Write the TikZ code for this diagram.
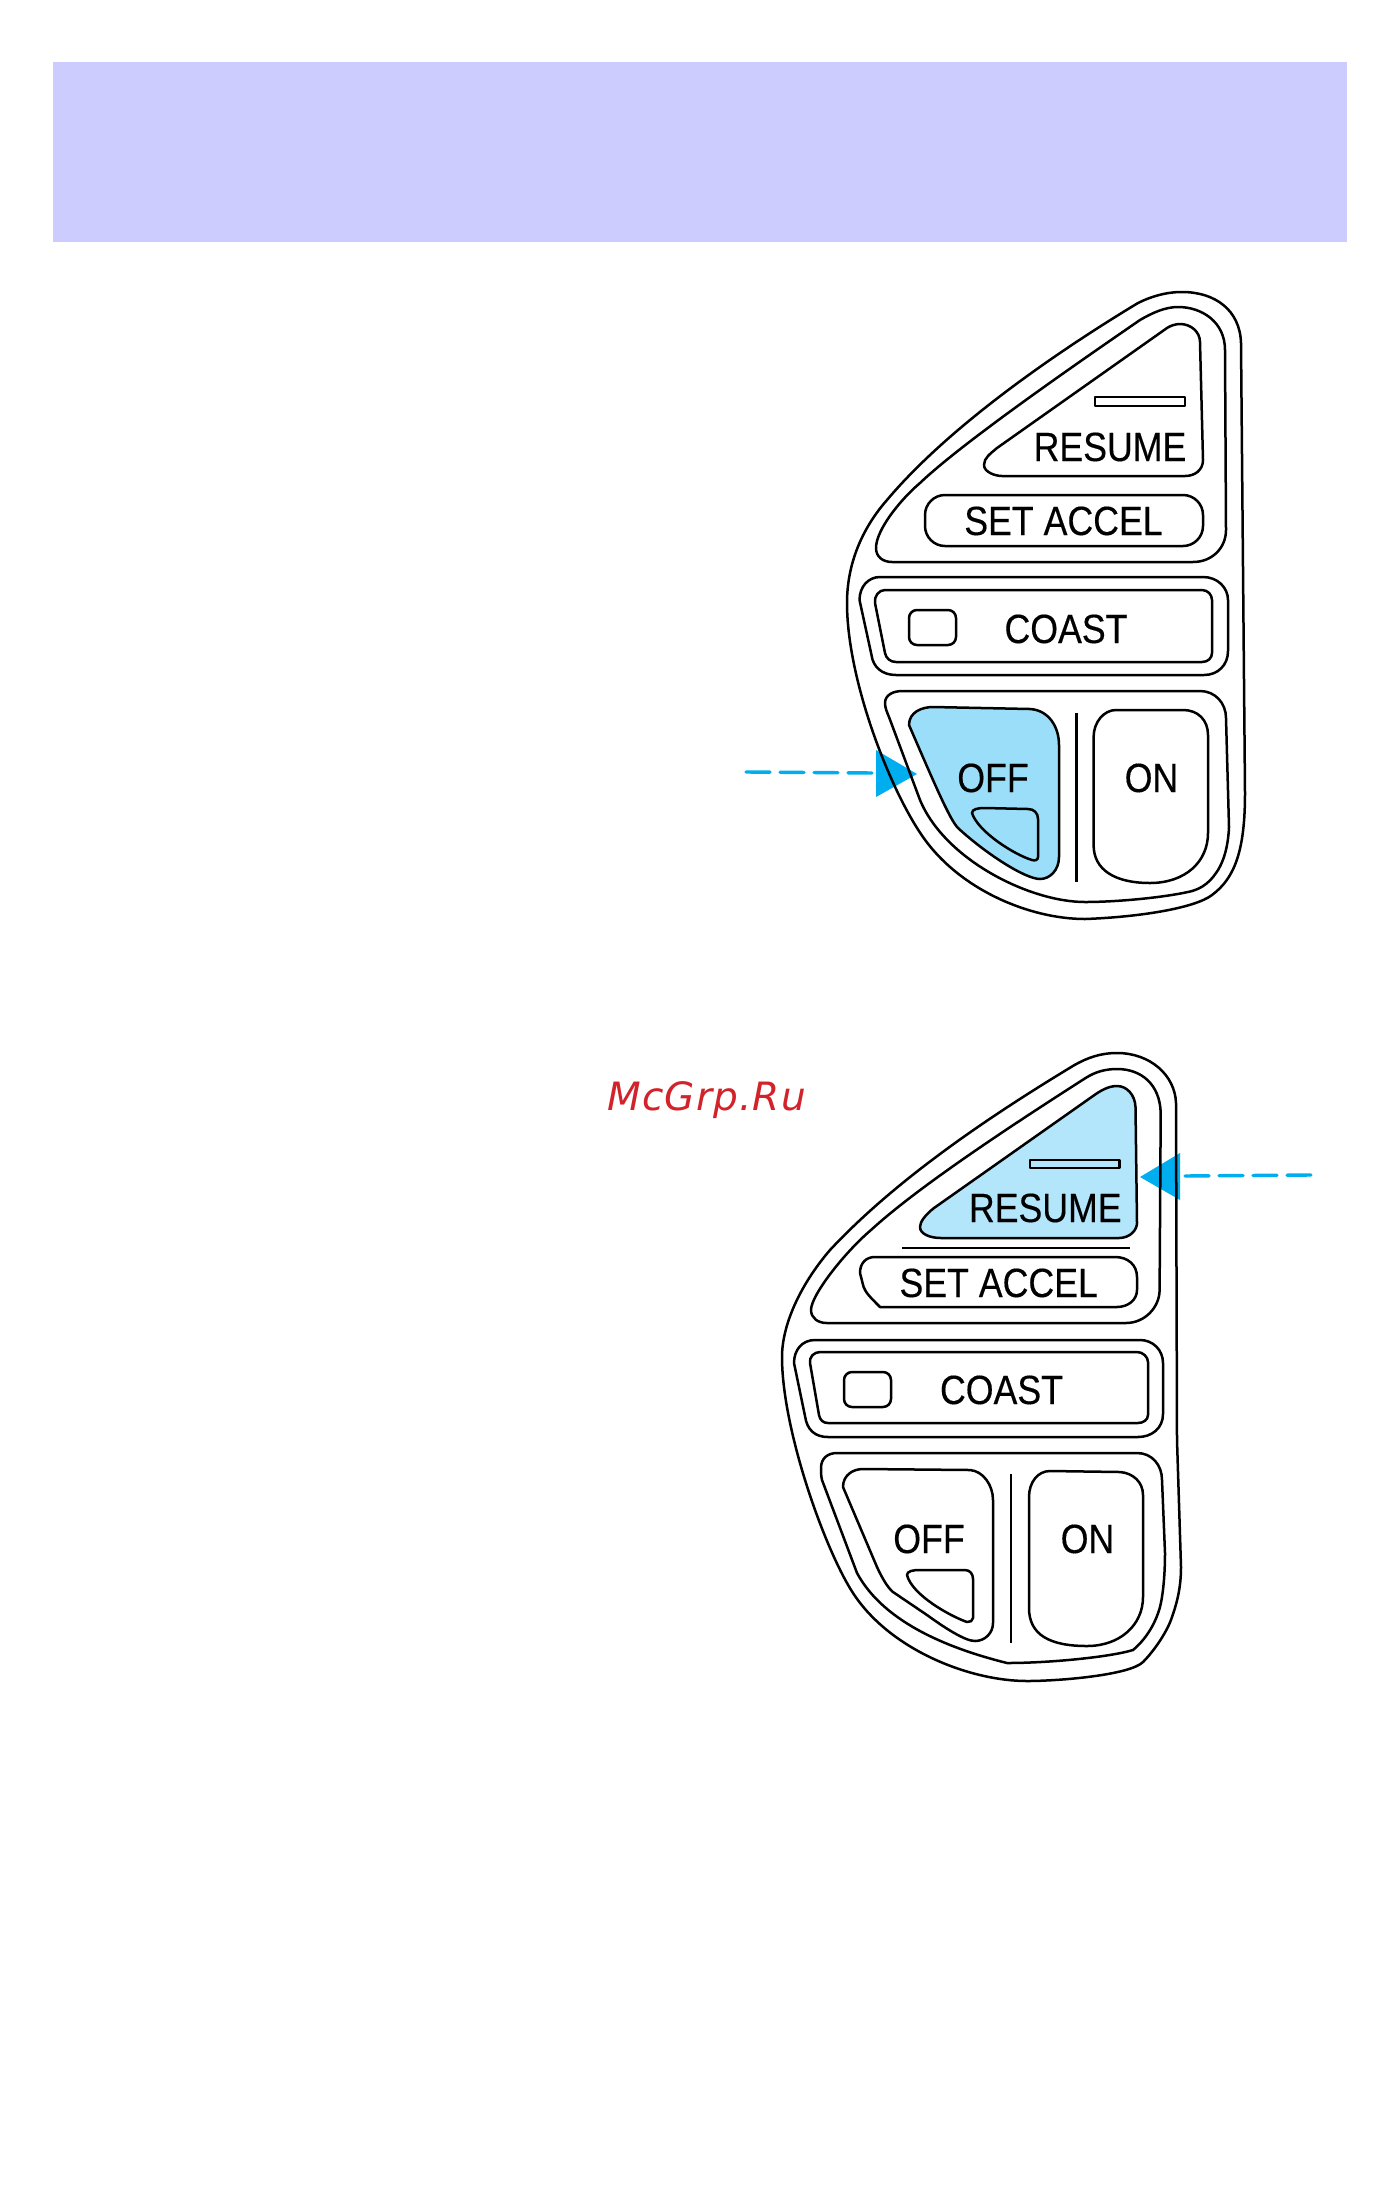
\documentclass[tikz,border=0pt]{standalone}
\usepackage{fontspec}
\setmainfont{Liberation Sans}
\newfontfamily\lblfont[FakeBold=0.35]{Liberation Sans}
\newfontfamily\wmfont[LetterSpace=3]{DejaVu Sans}
\definecolor{banner}{HTML}{CCCCFF}
\definecolor{cyanarrow}{HTML}{00AEEF}
\definecolor{offfill}{HTML}{9BDEF9}
\definecolor{resfill}{HTML}{B3E5FB}
\definecolor{wm}{HTML}{D2232A}
\tikzset{
 ln/.style={draw=black,line width=1.25pt,line join=round},
 lbl/.style={inner sep=0pt,font=\lblfont\fontsize{20.4pt}{24pt}\selectfont,xscale=.875,transform shape,anchor=base},
 dashline/.style={draw=cyanarrow,line width=1.7pt,line cap=round,dash pattern=on 12pt off 5pt},
 head/.style={fill=cyanarrow,draw=none},
}
\begin{document}
\begin{tikzpicture}[x=0.5pt,y=-0.5pt]
\useasboundingbox (0,0) rectangle (1398,2190);
\fill[white] (0,0) rectangle (1398,2190);
\fill[banner] (53,62) rectangle (1347,242);
% fills and arrows first, black lines over them
\coordinate (a1s) at (746,772);
\coordinate (a1e) at (875,773);
\draw[dashline] (a1s) -- (a1e);
\fill[head] (876,750) -- (917,774) -- (876,797) -- cycle;
\coordinate (a2s) at (1311,1175);
\coordinate (a2e) at (1182,1176);
\draw[dashline] (a2s) -- (a2e);
\fill[head] (1180,1153) -- (1140,1177) -- (1180,1200) -- cycle;
\def\offpath{(909,725) .. controls (909,712) and (922,707) .. (933,707) -- (1030,709) .. controls (1048,710) and (1059,726) .. (1059,745) -- (1059,857) .. controls (1059,870) and (1050,879) .. (1040,879) .. controls (1025,879) and (985,853) .. (958,828) .. controls (950,820) and (935,785) .. (909,725) -- cycle}
\fill[offfill] \offpath;
\draw[ln] \offpath;
\def\respath{(1117,1086) .. controls (1108,1086) and (1100,1091) .. (1093,1096) -- (934,1208) .. controls (925,1215) and (920,1222) .. (920,1227) .. controls (920,1234) and (930,1238) .. (941,1238) -- (1119,1238) .. controls (1130,1238) and (1137,1230) .. (1137,1223) -- (1135.5,1107) .. controls (1135,1095) and (1127,1086) .. (1117,1086) -- cycle}
\fill[resfill] \respath;
\draw[ln] \respath;
%% ---------- upper panel
\draw[ln] (1182,292) .. controls (1165,292) and (1150,297) .. (1138,303) .. controls (1060,350) and (950,425) .. (887,500) .. controls (865,525) and (847,560) .. (847,603) .. controls (847,680) and (890,790) .. (923,837) .. controls (960,890) and (1030,919) .. (1085,919) .. controls (1140,917) and (1195,908) .. (1212,895) .. controls (1235,878) and (1245,850) .. (1245,793) -- (1241,343) .. controls (1240,310) and (1215,292) .. (1182,292) -- cycle;
\draw[ln] (1178,307) .. controls (1165,307) and (1152,313) .. (1140,320) .. controls (1060,375) and (960,445) .. (920,483) .. controls (900,500) and (876,530) .. (876,548) .. controls (876,557) and (883,562) .. (892,562) -- (1193,562) .. controls (1212,562) and (1226,548) .. (1226,530) -- (1225,350) .. controls (1225,322) and (1202,307) .. (1178,307) -- cycle;
\draw[ln] (1180,324) .. controls (1175,324) and (1170,326) .. (1167,328) -- (997,448) .. controls (990,454) and (984,458) .. (984,465) .. controls (984,472) and (995,476) .. (1002,476) -- (1185,476) .. controls (1195,476) and (1203,470) .. (1203,460) -- (1200,342) .. controls (1200,332) and (1191,324) .. (1180,324) -- cycle;
\draw[ln] (1095,397) rectangle (1185,406);
\node[lbl] (res1) at (1110,461) {RESUME};
\draw[ln,rounded corners=10pt] (925,495) rectangle (1203,546);
\node[lbl] (set1) at (1063.5,535) {SET ACCEL};
% coast
\draw[ln] (859.5,600) .. controls (859.5,587) and (868,577) .. (880,577) -- (1203,577) .. controls (1218,577) and (1228,588) .. (1228,600) -- (1228,651) .. controls (1228,665) and (1218,675) .. (1204,675) -- (896,675) .. controls (882,675) and (873,667) .. (871.5,655) -- cycle;
\draw[ln] (875,603) .. controls (874,596) and (879,590) .. (885,590) -- (1202,590) .. controls (1208,590) and (1212,595) .. (1212,600) -- (1212,653) .. controls (1212,658) and (1208,662) .. (1202,662) -- (896,662) .. controls (890,662) and (886,658) .. (885,653) -- cycle;
\draw[ln,rounded corners=4pt] (909,610) rectangle (956,645);
\node[lbl] (coast1) at (1066,643) {COAST};
% off/on
\draw[ln] (885,703) .. controls (885,695) and (893,691) .. (902.5,691) -- (1200,691) .. controls (1215,691) and (1226,703) .. (1226,718) -- (1229,827) .. controls (1228,850) and (1222,865) .. (1216,873) .. controls (1208,885) and (1198,890) .. (1188,892) .. controls (1160,898) and (1115,902) .. (1085,902) .. controls (1030,902) and (945,860) .. (920,800) -- (889,717) .. controls (887,712) and (885,708) .. (885,703) -- cycle;
\draw[ln] (972,813) .. controls (972,809) and (978,808) .. (985,808) -- (1028,809) .. controls (1034,809) and (1038,813) .. (1038,819) -- (1038,857) .. controls (1038,860) and (1035,861) .. (1032,860) .. controls (1015,855) and (978,832) .. (972,813) -- cycle;
\node[lbl] (off1) at (993,792) {OFF};
\coordinate (d1a) at (1076.4,713);
\coordinate (d1b) at (1076.4,882);
\draw[ln] (d1a) -- (d1b);
\draw[ln] (1093.6,737) .. controls (1093.6,722) and (1104,710) .. (1116,710) -- (1183,710) .. controls (1198,710) and (1208,720) .. (1208,735) -- (1208,833) .. controls (1208,862) and (1185,883) .. (1150,883) .. controls (1115,883) and (1093.6,870) .. (1093.6,845) -- cycle;
\node[lbl] (on1) at (1151.5,792) {ON};
%% ---------- lower panel
\draw[ln] (1117,1053) .. controls (1100,1053) and (1087,1058) .. (1074.5,1065) .. controls (1000,1110) and (900,1175) .. (830,1250) .. controls (800,1285) and (782,1325) .. (782,1357) .. controls (782,1430) and (825,1550) .. (853,1593) .. controls (890,1650) and (970,1681) .. (1027,1681) .. controls (1060,1681) and (1130,1675) .. (1143,1662) .. controls (1155,1650) and (1168,1630) .. (1172,1617) .. controls (1178,1600) and (1181,1585) .. (1181,1567) -- (1177,1440) -- (1176,1103) .. controls (1175,1075) and (1150,1053) .. (1117,1053) -- cycle;
\draw[ln] (1117,1069) .. controls (1105,1069) and (1095,1072) .. (1085.6,1078) .. controls (1020,1120) and (920,1185) .. (871,1230) .. controls (845,1252) and (811,1295) .. (811,1310) .. controls (811,1318) and (818,1323) .. (826.6,1323) -- (1126,1323) .. controls (1145,1323) and (1159.6,1307) .. (1159.6,1290) -- (1160.7,1113) .. controls (1160,1085) and (1142,1069) .. (1117,1069) -- cycle;
\draw[ln] (1030,1160) rectangle (1119.6,1168);
\node[lbl] (res2) at (1045.3,1222) {RESUME};
\coordinate (l2a) at (902.4,1248);
\coordinate (l2b) at (1130,1248);
\draw[ln] (l2a) -- (l2b);
\draw[ln] (860,1273) .. controls (860,1263) and (866,1257) .. (875,1257) -- (1115,1257) .. controls (1128,1257) and (1137,1265) .. (1137,1277) -- (1137,1290) .. controls (1137,1300) and (1128,1307) .. (1117,1307) -- (880,1307) .. controls (870,1297) and (866,1293) .. (863.6,1287) -- cycle;
\node[lbl] (set2) at (998.7,1297) {SET ACCEL};
% coast
\draw[ln] (794,1363) .. controls (794,1350) and (802,1340) .. (815,1340) -- (1140,1340) .. controls (1153,1340) and (1163,1350) .. (1163,1363) -- (1163,1414) .. controls (1163,1428) and (1152,1437) .. (1138,1437) -- (828,1437) .. controls (815,1437) and (807,1430) .. (805,1416) -- cycle;
\draw[ln] (810,1363) .. controls (809,1357) and (814,1352) .. (820,1352) -- (1137,1352) .. controls (1143,1352) and (1148,1357) .. (1148,1362) -- (1148,1415) .. controls (1148,1420) and (1143,1423) .. (1138,1423) -- (828,1423) .. controls (823,1423) and (820,1420) .. (819,1415) -- cycle;
\draw[ln,rounded corners=4pt] (844,1372) rectangle (891,1407);
\node[lbl] (coast2) at (1001.5,1404) {COAST};
% off/on
\draw[ln] (821,1468) .. controls (821,1458) and (828,1453) .. (837,1453) -- (1137,1453) .. controls (1152,1453) and (1162,1465) .. (1162,1480) -- (1165,1553) .. controls (1165,1575) and (1163,1595) .. (1160,1607) .. controls (1155,1625) and (1145,1640) .. (1133,1650) .. controls (1110,1657) and (1050,1663) .. (1007,1663) .. controls (955,1650) and (885,1625) .. (857,1573) -- (822,1480) .. controls (821,1476) and (821,1472) .. (821,1468) -- cycle;
\draw[ln] (843,1487) .. controls (843,1475) and (853,1469) .. (863,1469) -- (970,1470) .. controls (983,1471) and (993,1485) .. (993,1500) -- (993,1623) .. controls (993,1633) and (985,1641) .. (975,1641) .. controls (965,1641) and (945,1628) .. (927,1615) -- (893,1592) .. controls (888,1588) and (882,1578) .. (877,1567) -- (843,1487) -- cycle;
\draw[ln] (907,1575) .. controls (907,1571) and (913,1570) .. (920,1570) -- (965,1570) .. controls (970,1570) and (973,1574) .. (973,1579) -- (973,1618) .. controls (973,1621) and (970,1622) .. (967,1622) .. controls (950,1616) and (912,1595) .. (907,1575) -- cycle;
\node[lbl] (off2) at (929,1553) {OFF};
\coordinate (d2a) at (1011,1474);
\coordinate (d2b) at (1011,1643);
\draw[ln] (d2a) -- (d2b);
\draw[ln] (1029,1497) .. controls (1029,1482) and (1038,1471) .. (1050,1471) -- (1120,1472) .. controls (1133,1473) and (1143,1482) .. (1143,1495) -- (1143,1597) .. controls (1143,1625) and (1120,1646) .. (1087,1646) .. controls (1050,1646) and (1029,1635) .. (1029,1608) -- cycle;
\node[lbl] (on2) at (1087.5,1553) {ON};
\node[inner sep=0pt,anchor=base west,text=wm] (wmk) at (607,1110) {\wmfont\itshape\fontsize{19.5pt}{24pt}\selectfont McGrp.Ru};
\end{tikzpicture}
\end{document}
